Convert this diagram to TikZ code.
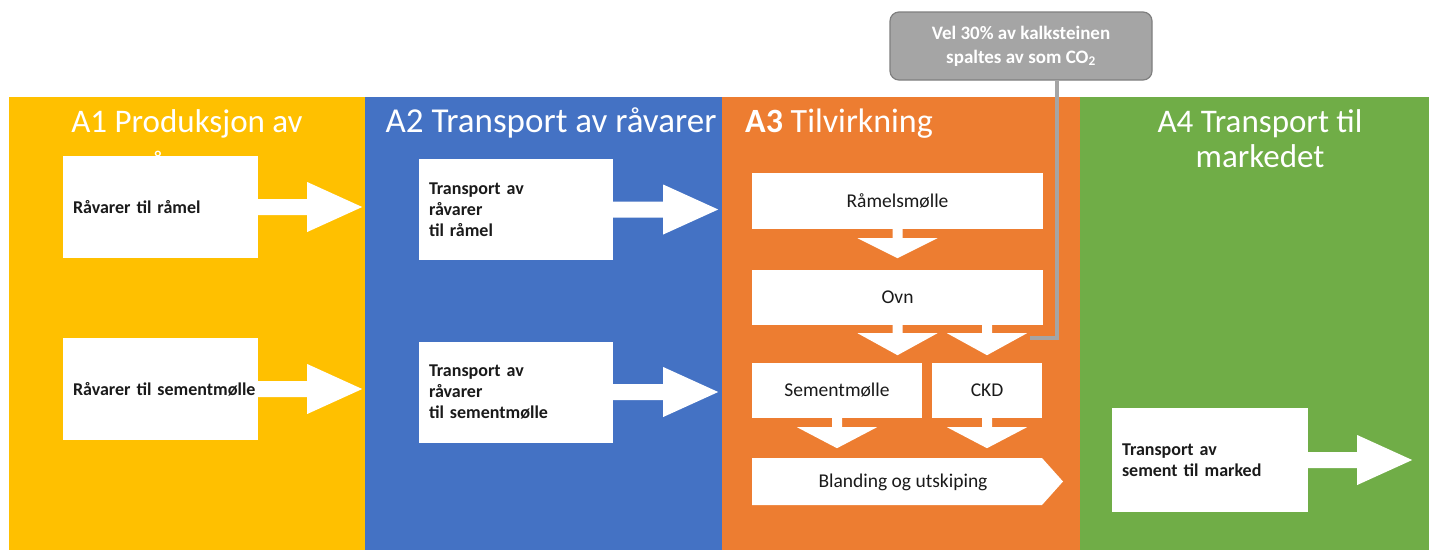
\documentclass[tikz,border=0pt]{standalone}
\usepackage{fontspec}
\setmainfont{Carlito}
\usetikzlibrary{calc}
\definecolor{cyel}{HTML}{FFC000}
\definecolor{cblu}{HTML}{4472C4}
\definecolor{cora}{HTML}{ED7D31}
\definecolor{cgrn}{HTML}{70AD47}
\definecolor{cgry}{HTML}{A5A5A5}
\definecolor{cgrd}{HTML}{7F7F7F}
\definecolor{ctxt}{HTML}{1A1A1A}
% right-pointing block arrow: start point, shaft length
\newcommand\rightblk[2]{\fill[white] #1 ++(0,-8) -- ++(#2,0) -- ++(0,-17) -- ++(55,25) -- ++(-55,25) -- ++(0,-17) -- ++(-#2,0) -- cycle;}
% down-pointing block arrow: start point, shaft length, head length
\newcommand\downblk[3]{\fill[white] #1 ++(-5,0) -- ++(10,0) -- ++(0,#2) -- ++(35,0) -- ++(-40,#3) -- ++(-40,-#3) -- ++(35,0) -- cycle;}
\begin{document}
\begin{tikzpicture}[x=1pt,y=-1pt,
  hdr/.style={font=\fontsize{33}{34}\selectfont, text=white, inner sep=0pt},
  wbox/.style={fill=white, draw=none, text=ctxt},
  lbox/.style={wbox, font=\bfseries\fontsize{18}{21}\selectfont, align=left, inner xsep=10pt, inner ysep=0pt},
  cbox/.style={wbox, font=\fontsize{19.5}{23}\selectfont, align=center, inner sep=0pt},
  link/.style={draw=cgry, line width=3.5pt}]
\useasboundingbox (0,0) rectangle (1429,550);
\fill[white] (0,0) rectangle (1429,550);
% columns
\fill[cyel] (9,97) rectangle (365,550);
\fill[cblu] (365,97) rectangle (722,550);
\fill[cora] (722,97) rectangle (1080,550);
\fill[cgrn] (1080,97) rectangle (1429,550);
% headers
\node[hdr, anchor=base] (h1a) at (187,132) {A1 Produksjon av};
\node[hdr, anchor=base] (h1b) at (187,174) {råvarer};
\node[hdr, anchor=base, font=\fontsize{35}{36}\selectfont] (h2) at (551,132) {A2 Transport av råvarer};
\node[hdr, anchor=base west, font=\fontsize{34}{35}\selectfont] (h3) at (745,132) {\textbf{A3} Tilvirkning};
\node[hdr, anchor=base] (h4a) at (1260,132) {A4 Transport til};
\node[hdr, anchor=base] (h4b) at (1260,167) {markedet};
% A1
\node[lbox, text width=175pt, minimum height=102pt] (b11) at (160.5,207) {\mbox{Råvarer til råmel}};
\node[lbox, text width=175pt, minimum height=102pt] (b12) at (160.5,389) {\mbox{Råvarer til sementmølle}};
\rightblk{(b11.east)}{49}
\rightblk{(b12.east)}{49}
% A2
\node[lbox, text width=174pt, minimum height=101pt] (b21) at (516,209.5) {Transport av\\råvarer\\til råmel};
\node[lbox, text width=174pt, minimum height=101pt] (b22) at (516,392) {Transport av\\råvarer\\til sementmølle};
\rightblk{(b21.east)}{50}
\rightblk{(b22.east)}{50}
% A3
\node[cbox, minimum width=291pt, minimum height=56pt] (rm) at (897.5,201) {Råmelsmølle};
\node[cbox, minimum width=291pt, minimum height=55pt] (ovn) at (897.5,297.5) {Ovn};
\node[cbox, minimum width=170pt, minimum height=55pt] (sm) at (837,390.5) {Sementmølle};
\node[cbox, minimum width=110pt, minimum height=55pt] (ckd) at (987,390.5) {CKD};
\fill[white] (752,458) -- (1042,458) -- (1063,481.5) -- (1042,505) -- (752,505) -- cycle;
\node[cbox] (bl) at (903,482) {Blanding og utskiping};
\downblk{(rm.south)}{9}{20}
\downblk{(ovn.south)}{8}{22}
\downblk{($(ovn.south)+(89.5,0)$)}{8}{22}
\downblk{(sm.south)}{9}{21}
\downblk{(ckd.south)}{9}{21}
% A4
\node[lbox, text width=176pt, minimum height=104pt] (b41) at (1210,460) {Transport av\\sement til marked};
\rightblk{(b41.east)}{49}
% callout
\node[fill=cgry, draw=cgrd, line width=1.2pt, rounded corners=9pt, minimum width=262pt, minimum height=68pt,
  text=white, font=\bfseries\fontsize{19}{24}\selectfont, align=center] (co) at (1021,46)
  {Vel 30\% av kalksteinen\\spaltes av som CO\textsubscript{2}};
\coordinate (coin) at (1030,338);
\draw[link] ($(co.south)+(36,0)$) |- (coin);
\end{tikzpicture}
\end{document}
